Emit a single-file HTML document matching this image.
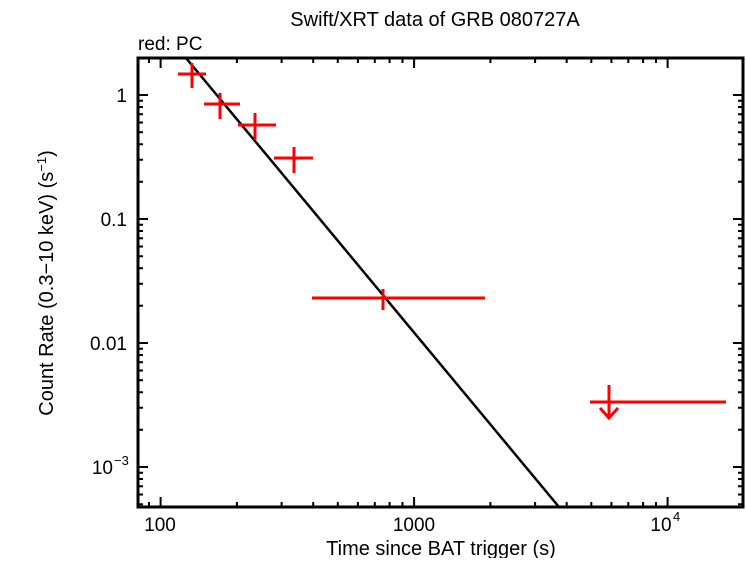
<!DOCTYPE html>
<html><head><style>
html,body{margin:0;padding:0;background:#fff;}
text{font-family:"Liberation Sans",sans-serif;fill:#000;}
</style></head><body>
<svg width="746" height="558" viewBox="0 0 746 558" xmlns="http://www.w3.org/2000/svg">
<rect width="746" height="558" fill="#fff"/>
<text x="435" y="26" font-size="20" text-anchor="middle">Swift/XRT data of GRB 080727A</text>
<text x="138" y="50" font-size="19">red: PC</text>
<g stroke="#000" stroke-width="2" fill="none">
<path d="
M149,507v-5 M160.6,507v-10 M236.9,507v-5 M281.6,507v-5 M313.2,507v-5 M337.8,507v-5 M357.9,507v-5 M374.8,507v-5 M389.6,507v-5 M402.5,507v-5
M414.1,507v-10 M490.4,507v-5 M535.1,507v-5 M566.7,507v-5 M591.3,507v-5 M611.4,507v-5 M628.3,507v-5 M643.1,507v-5 M656,507v-5 M667.6,507v-10
M149,58v5 M160.6,58v10 M236.9,58v5 M281.6,58v5 M313.2,58v5 M337.8,58v5 M357.9,58v5 M374.8,58v5 M389.6,58v5 M402.5,58v5
M414.1,58v10 M490.4,58v5 M535.1,58v5 M566.7,58v5 M591.3,58v5 M611.4,58v5 M628.3,58v5 M643.1,58v5 M656,58v5 M667.6,58v10
"/>
<path d="
M138,95h10 M138,100.7h5 M138,107h5 M138,114.2h5 M138,122.5h5 M138,132.3h5 M138,144.3h5 M138,159.8h5 M138,181.7h5
M138,219h10 M138,224.7h5 M138,231h5 M138,238.2h5 M138,246.5h5 M138,256.3h5 M138,268.3h5 M138,283.8h5 M138,305.7h5
M138,343h10 M138,348.7h5 M138,355h5 M138,362.2h5 M138,370.5h5 M138,380.3h5 M138,392.3h5 M138,407.8h5 M138,429.7h5
M138,467h10 M138,472.7h5 M138,479h5 M138,486.2h5 M138,494.5h5 M138,504.3h5
M743,95h-10 M743,100.7h-5 M743,107h-5 M743,114.2h-5 M743,122.5h-5 M743,132.3h-5 M743,144.3h-5 M743,159.8h-5 M743,181.7h-5
M743,219h-10 M743,224.7h-5 M743,231h-5 M743,238.2h-5 M743,246.5h-5 M743,256.3h-5 M743,268.3h-5 M743,283.8h-5 M743,305.7h-5
M743,343h-10 M743,348.7h-5 M743,355h-5 M743,362.2h-5 M743,370.5h-5 M743,380.3h-5 M743,392.3h-5 M743,407.8h-5 M743,429.7h-5
M743,467h-10 M743,472.7h-5 M743,479h-5 M743,486.2h-5 M743,494.5h-5 M743,504.3h-5
"/>
</g>
<rect x="138" y="58" width="605" height="449" fill="none" stroke="#000" stroke-width="3"/>
<line x1="186" y1="58" x2="559" y2="507" stroke="#000" stroke-width="2.5"/>
<g stroke="#f00" stroke-width="3" fill="none">
<path d="M178,74H206M192,63V88"/>
<path d="M204,104H240M220,93V119"/>
<path d="M238,125H276M255,113V140"/>
<path d="M274,158H313M294,147V173"/>
<path d="M312,298H485M383,289V310"/>
<path d="M590,402H726M609,385V418M600,408L609,418L618,408"/>
</g>
<g font-size="19">
<text x="127" y="102" text-anchor="end">1</text>
<text x="127" y="226" text-anchor="end">0.1</text>
<text x="127" y="350" text-anchor="end">0.01</text>
<text x="113" y="474" text-anchor="end">10</text>
<text x="114" y="465" font-size="13">−3</text>
<text x="160" y="531" text-anchor="middle">100</text>
<text x="414" y="531" text-anchor="middle">1000</text>
<text x="661" y="531" text-anchor="middle">10</text>
<text x="673" y="521" font-size="13">4</text>
<text x="441" y="555" text-anchor="middle" font-size="20">Time since BAT trigger (s)</text>
<text transform="translate(53,283) rotate(-90)" text-anchor="middle" font-size="20">Count Rate (0.3−10 keV) (s<tspan font-size="13" dy="-7">−1</tspan><tspan dy="7">)</tspan></text>
</g>
</svg>
</body></html>
